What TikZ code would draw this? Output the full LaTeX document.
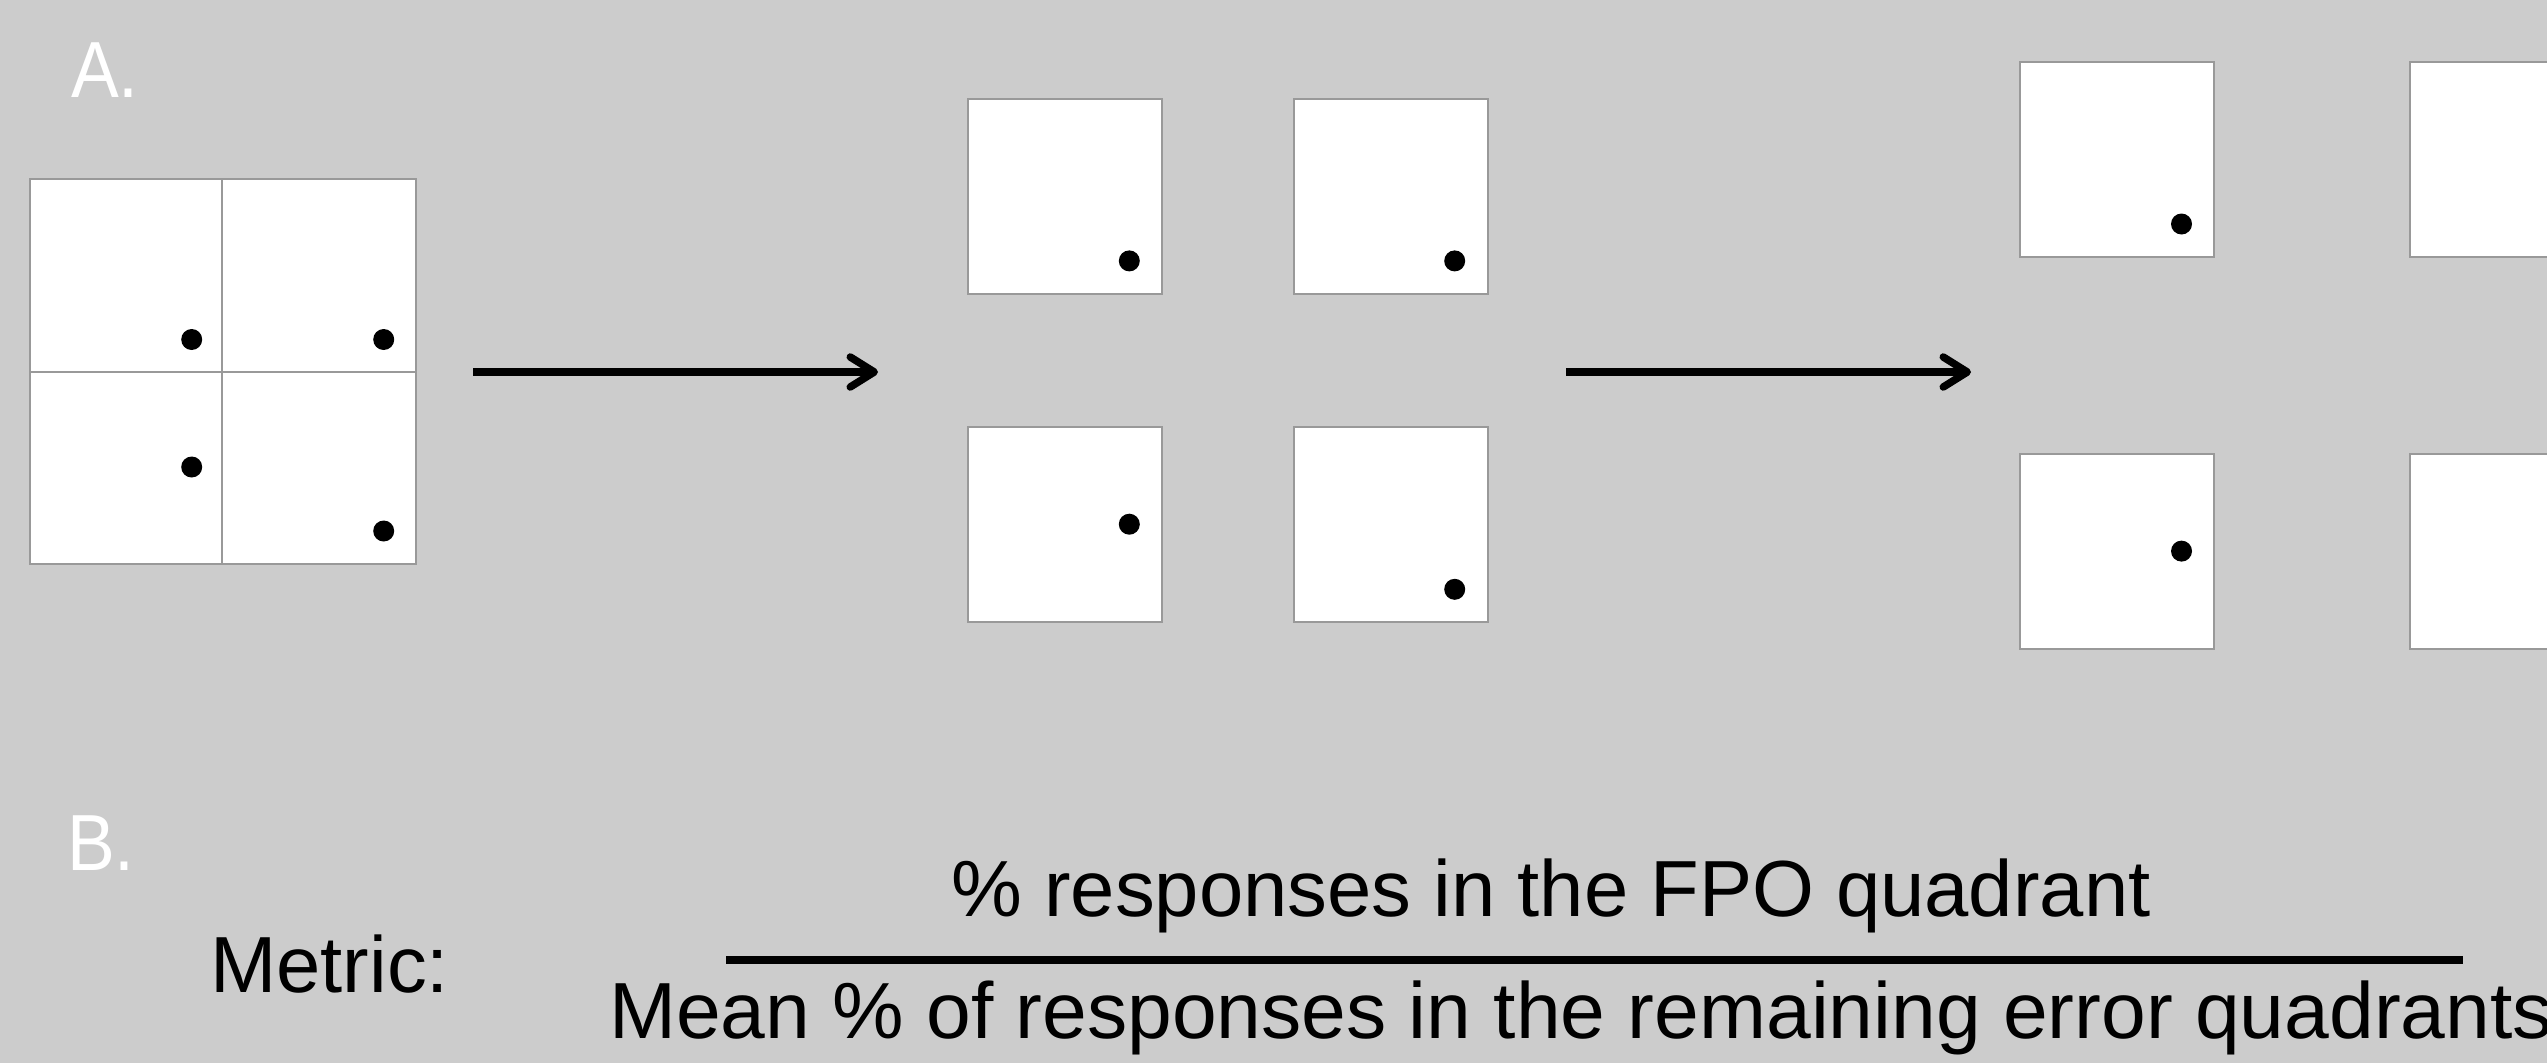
\documentclass[tikz,border=0pt]{standalone}
\usepackage{fontspec}
\setmainfont{Liberation Sans}
\usetikzlibrary{arrows.meta}
\definecolor{bg}{RGB}{204,204,204}
\definecolor{frame}{RGB}{153,153,153}
\tikzset{
  panel/.style={draw=frame, fill=white, line width=2pt, inner sep=0pt,
                minimum width=194pt, minimum height=195pt},
  bigpanel/.style={panel, minimum width=386pt, minimum height=385pt},
  divider/.style={draw=frame, line width=2pt},
  resp/.style={circle, fill=black, inner sep=0pt, minimum size=21pt},
  flow/.style={line width=7.5pt, -{Straight Barb[length=24pt, width=30pt, round]}},
  bigtext/.style={inner sep=0pt, font=\fontsize{79.6}{90}\selectfont},
  label/.style={bigtext, text=white, xscale=0.9},
  fracbar/.style={line width=7.5pt}
}
\begin{document}
\begin{tikzpicture}[x=1pt, y=-1pt]
  \useasboundingbox (0,0) rectangle (2547,1063);
  \clip (0,0) rectangle (2547,1063);
  \fill[bg] (0,0) rectangle (2547,1063);

  % Panel A: the full response grid
  \node[label, anchor=base west] (labA) at (71,97) {A.};
  \node[bigpanel] (grid) at (223,371.5) {};
  \draw[divider] (grid.north) ++(-1,0) coordinate (gtop) -- (gtop |- grid.south);
  \draw[divider] (grid.west) -- (grid.east);
  \node[resp] (g1) at (191.7,339.5) {};
  \node[resp] (g2) at (383.7,339.5) {};
  \node[resp] (g3) at (191.7,467) {};
  \node[resp] (g4) at (383.7,531) {};

  % quadrants pulled apart
  \node[panel] (m1) at (1065.4,196.3) {};
  \node[panel] (m2) at (1390.9,196.3) {};
  \node[panel] (m3) at (1065.4,524.2) {};
  \node[panel] (m4) at (1390.9,524.2) {};
  \node[resp] (md1) at (1129.3,260.9) {};
  \node[resp] (md2) at (1454.7,260.9) {};
  \node[resp] (md3) at (1129.3,524.2) {};
  \node[resp] (md4) at (1454.7,589.3) {};

  % quadrants rearranged
  \node[panel] (r1) at (2117.4,159) {};
  \node[panel] (r2) at (2507,159) {};
  \node[panel] (r3) at (2117.4,551.2) {};
  \node[panel] (r4) at (2507,551.2) {};
  \node[resp] (rd1) at (2181.5,224) {};
  \node[resp] (rd3) at (2181.5,551.1) {};

  % transitions
  \coordinate (a1s) at (473,372);
  \coordinate (a1e) at (878,372);
  \coordinate (a2s) at (1566,372);
  \coordinate (a2e) at (1971,372);
  \draw[flow] (a1s) -- (a1e);
  \draw[flow] (a2s) -- (a2e);

  % Panel B: the metric
  \node[label, anchor=base west] (labB) at (67,870.7) {B.};
  \node[bigtext, anchor=base west] (metric) at (210,992.7) {Metric:};
  \node[bigtext, anchor=base] (num) at (1551,916) {\% responses in the FPO quadrant};
  \coordinate (barL) at (726,960);
  \coordinate (barR) at (2463,960);
  \draw[fracbar] (barL) -- (barR);
  \node[bigtext, anchor=base west, xscale=1.01] (den) at (609,1038.3) {Mean \% of responses in the remaining error quadrants};
\end{tikzpicture}
\end{document}
